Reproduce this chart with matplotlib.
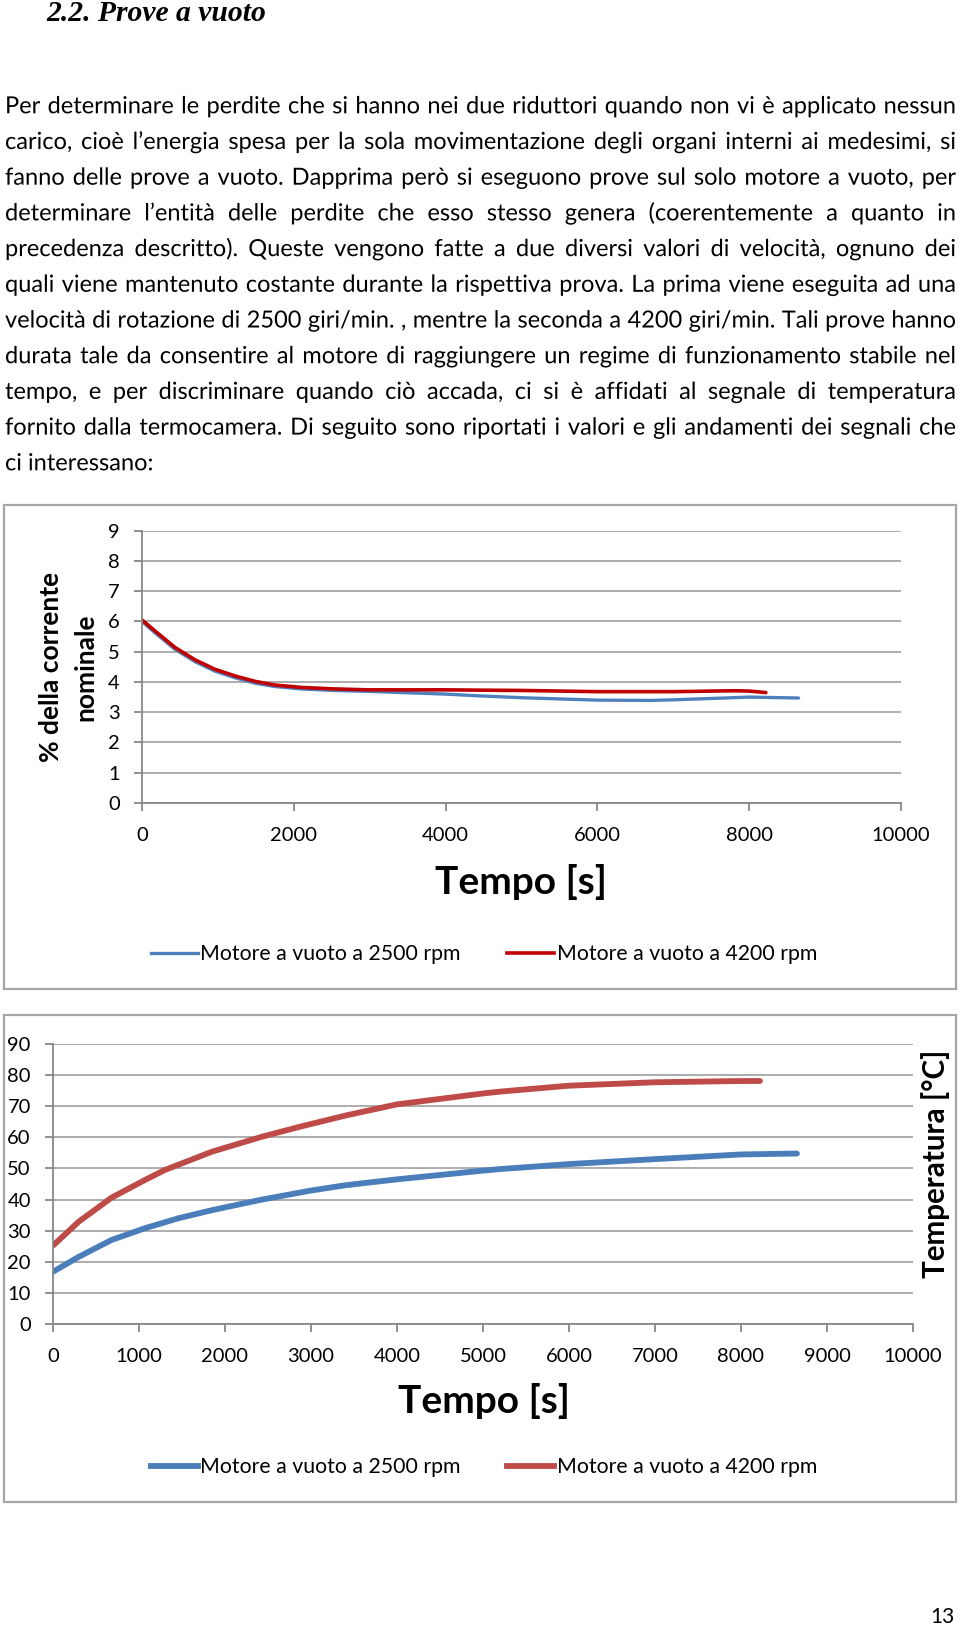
import matplotlib
matplotlib.use('Agg')
import matplotlib.pyplot as plt
from matplotlib.patches import Rectangle, PathPatch
from matplotlib.lines import Line2D
from matplotlib.textpath import TextPath
from matplotlib.font_manager import FontProperties
from matplotlib.transforms import Affine2D

# Page size in pixels
W, H = 960, 1627

# Heading and body text
heading = "2.2. Prove a vuoto"
body_lines = [
    "Per determinare le perdite che si hanno nei due riduttori quando non vi è applicato nessun",
    "carico, cioè l’energia spesa per la sola movimentazione degli organi interni ai medesimi, si",
    "fanno delle prove a vuoto. Dapprima però si eseguono prove sul solo motore a vuoto, per",
    "determinare l’entità delle perdite che esso stesso genera (coerentemente a quanto in",
    "precedenza descritto). Queste vengono fatte a due diversi valori di velocità, ognuno dei",
    "quali viene mantenuto costante durante la rispettiva prova. La prima viene eseguita ad una",
    "velocità di rotazione di 2500 giri/min. , mentre la seconda a 4200 giri/min. Tali prove hanno",
    "durata tale da consentire al motore di raggiungere un regime di funzionamento stabile nel",
    "tempo, e per discriminare quando ciò accada, ci si è affidati al segnale di temperatura",
    "fornito dalla termocamera. Di seguito sono riportati i valori e gli andamenti dei segnali che",
    "ci interessano:",
]
page_number = "13"

# Chart 1: % della corrente nominale
t_cur_2500 = [0, 170, 435, 700, 960, 1225, 1490, 1750, 2100, 2540, 2980, 4000,
              4450, 5000, 6000, 6700, 7000, 8000, 8650]
cur_2500 = [6.0, 5.63, 5.08, 4.67, 4.36, 4.14, 3.96, 3.85, 3.77, 3.72, 3.69, 3.6,
            3.54, 3.48, 3.4, 3.39, 3.41, 3.5, 3.47]
t_cur_4200 = [0, 170, 435, 700, 960, 1225, 1490, 1750, 2100, 2540, 2980, 4000,
              4450, 5000, 6000, 7000, 7800, 8000, 8220]
cur_4200 = [6.05, 5.69, 5.14, 4.73, 4.42, 4.2, 4.02, 3.9, 3.82, 3.77, 3.74, 3.74,
            3.73, 3.72, 3.68, 3.68, 3.71, 3.7, 3.65]

# Chart 2: Temperatura [°C]
t_temp_2500 = [0, 300, 680, 1070, 1460, 1850, 2430, 3000, 3400, 4000, 5000, 5200,
               6000, 7000, 8000, 8650]
temp_2500 = [16.8, 21.6, 27.0, 30.8, 34.0, 36.6, 40.0, 42.9, 44.6, 46.5, 49.3, 49.8,
             51.4, 53.0, 54.5, 54.8]
t_temp_4200 = [0, 300, 680, 1070, 1300, 1850, 2430, 2870, 3400, 4000, 5000, 5200,
               6000, 7000, 8000, 8220]
temp_4200 = [25.2, 32.9, 40.6, 46.3, 49.5, 55.4, 60.2, 63.4, 67.0, 70.6, 74.1, 74.7,
             76.6, 77.7, 78.1, 78.1]

labels = ["Motore a vuoto a 2500 rpm", "Motore a vuoto a 4200 rpm"]

plt.rcParams['font.family'] = ['Lato', 'DejaVu Sans']

fig = plt.figure(figsize=(W / 100, H / 100), dpi=100)
fig.patch.set_facecolor('white')


def fx(x):
    return x / W


def fy(y):
    return 1 - y / H


# ---------------------------------------------------------------- text
fig.text(fx(46), fy(21), heading, fontsize=21.3, fontweight='bold', fontstyle='italic',
         family=['Liberation Serif', 'DejaVu Serif'], va='baseline', ha='left')

# overlay in pixel units for the justified body text (paths keep one baseline)
page = fig.add_axes([0, 0, 1, 1], zorder=5)
page.set_xlim(0, W)
page.set_ylim(0, H)
page.axis('off')

body_prop = FontProperties(family='Lato')
left, right = 5, 956


def word_path(s, size):
    return TextPath((0, 0), s, size=size, prop=body_prop)


def adv(s, size):
    # approx advance width: ink of "xsx" minus ink of "xx"
    return word_path("x" + s + "x", size).get_extents().width - word_path("xx", size).get_extents().width


unit = 10.0
space_u = adv(" ", unit)
natural = [sum(adv(w, unit) for w in ln.split(" ")) + space_u * (len(ln.split(" ")) - 1)
           for ln in body_lines[:-1]]
px = min(23.6, unit * (right - left) / max(natural))

for i, line in enumerate(body_lines):
    yb = H - (113.3 + 35.7 * i)
    words = line.split(" ")
    widths = [adv(w, px) for w in words]
    if i < len(body_lines) - 1 and len(words) > 1:
        gap = (right - left - sum(widths)) / (len(words) - 1)
    else:
        gap = space_u * px / unit
    x = left
    for w, wd in zip(words, widths):
        p = word_path(w, px)
        page.add_patch(PathPatch(p, facecolor='black', lw=0,
                                 transform=Affine2D().translate(x, yb) + page.transData))
        x += wd + gap

fig.text(fx(942), fy(1617), page_number, fontsize=15, ha='center', va='center')


# ---------------------------------------------------------------- charts
GRID = '#A6A6A6'
AXIS = '#888888'


def chart_frame(top, bottom):
    fig.patches.append(Rectangle((fx(4), fy(bottom)), (956 - 4) / W, (bottom - top) / H,
                                 transform=fig.transFigure, facecolor='white',
                                 edgecolor='#A6A6A6', lw=1.6, zorder=-5))


def style_axes(ax, xticks, yticks):
    ax.set_facecolor('none')
    ax.set_xlim(0, 10000)
    ax.set_xticks(xticks)
    ax.set_yticks(yticks)
    ax.set_ylim(yticks[0], yticks[-1])
    for s in ['top', 'right']:
        ax.spines[s].set_visible(False)
    for s in ['left', 'bottom']:
        ax.spines[s].set_color(AXIS)
        ax.spines[s].set_linewidth(1.3)
    ax.yaxis.grid(True, color=GRID, lw=1.3)
    ax.set_axisbelow(True)
    ax.tick_params(axis='both', direction='out', length=6, width=1.3, color=AXIS,
                   labelsize=14.5, pad=10)
    ax.tick_params(axis='x', pad=11)


# Chart 1
chart_frame(505, 989)
ax1 = fig.add_axes([fx(142), fy(803), (901 - 142) / W, (803 - 530.7) / H])
style_axes(ax1, list(range(0, 10001, 2000)), list(range(0, 10)))
ax1.plot(t_cur_2500, cur_2500, color='#4F81BD', lw=2.4, solid_capstyle='round')
ax1.plot(t_cur_4200, cur_4200, color='#C00000', lw=2.6, solid_capstyle='round')

fig.text(fx(521), fy(882), "Tempo [s]", fontsize=28, fontweight='bold', ha='center', va='center')
fig.text(fx(51), fy(667), "% della corrente", fontsize=19, fontweight='bold',
         rotation=90, ha='center', va='center')
fig.text(fx(85), fy(667), "nominale", fontsize=19, fontweight='bold',
         rotation=90, ha='center', va='center')

h1 = [Line2D([], [], color='#4F81BD', lw=2.4), Line2D([], [], color='#C00000', lw=2.6)]
ax1.legend(h1, labels, loc='center', bbox_to_anchor=(fx(484), fy(954)),
           bbox_transform=fig.transFigure, ncol=2, frameon=False, fontsize=15.3,
           handlelength=2.2, handletextpad=0.12, columnspacing=2.2)

# Chart 2
chart_frame(1015, 1502)
ax2 = fig.add_axes([fx(53), fy(1324), (913 - 53) / W, (1324 - 1044) / H])
style_axes(ax2, list(range(0, 10001, 1000)), list(range(0, 91, 10)))
ax2.plot(t_temp_2500, temp_2500, color='#4A7EBB', lw=4.2, solid_capstyle='round')
ax2.plot(t_temp_4200, temp_4200, color='#BE4B48', lw=4.2, solid_capstyle='round')

fig.text(fx(484), fy(1401), "Tempo [s]", fontsize=28, fontweight='bold', ha='center', va='center')
fig.text(fx(936), fy(1164), "Temperatura [°C]", fontsize=21.3, fontweight='bold',
         rotation=90, ha='center', va='center')

h2 = [Line2D([], [], color='#4A7EBB', lw=4.2), Line2D([], [], color='#BE4B48', lw=4.2)]
ax2.legend(h2, labels, loc='center', bbox_to_anchor=(fx(484), fy(1467)),
           bbox_transform=fig.transFigure, ncol=2, frameon=False, fontsize=15.3,
           handlelength=2.2, handletextpad=0.12, columnspacing=2.2)

fig.savefig('out.png', dpi=100)
